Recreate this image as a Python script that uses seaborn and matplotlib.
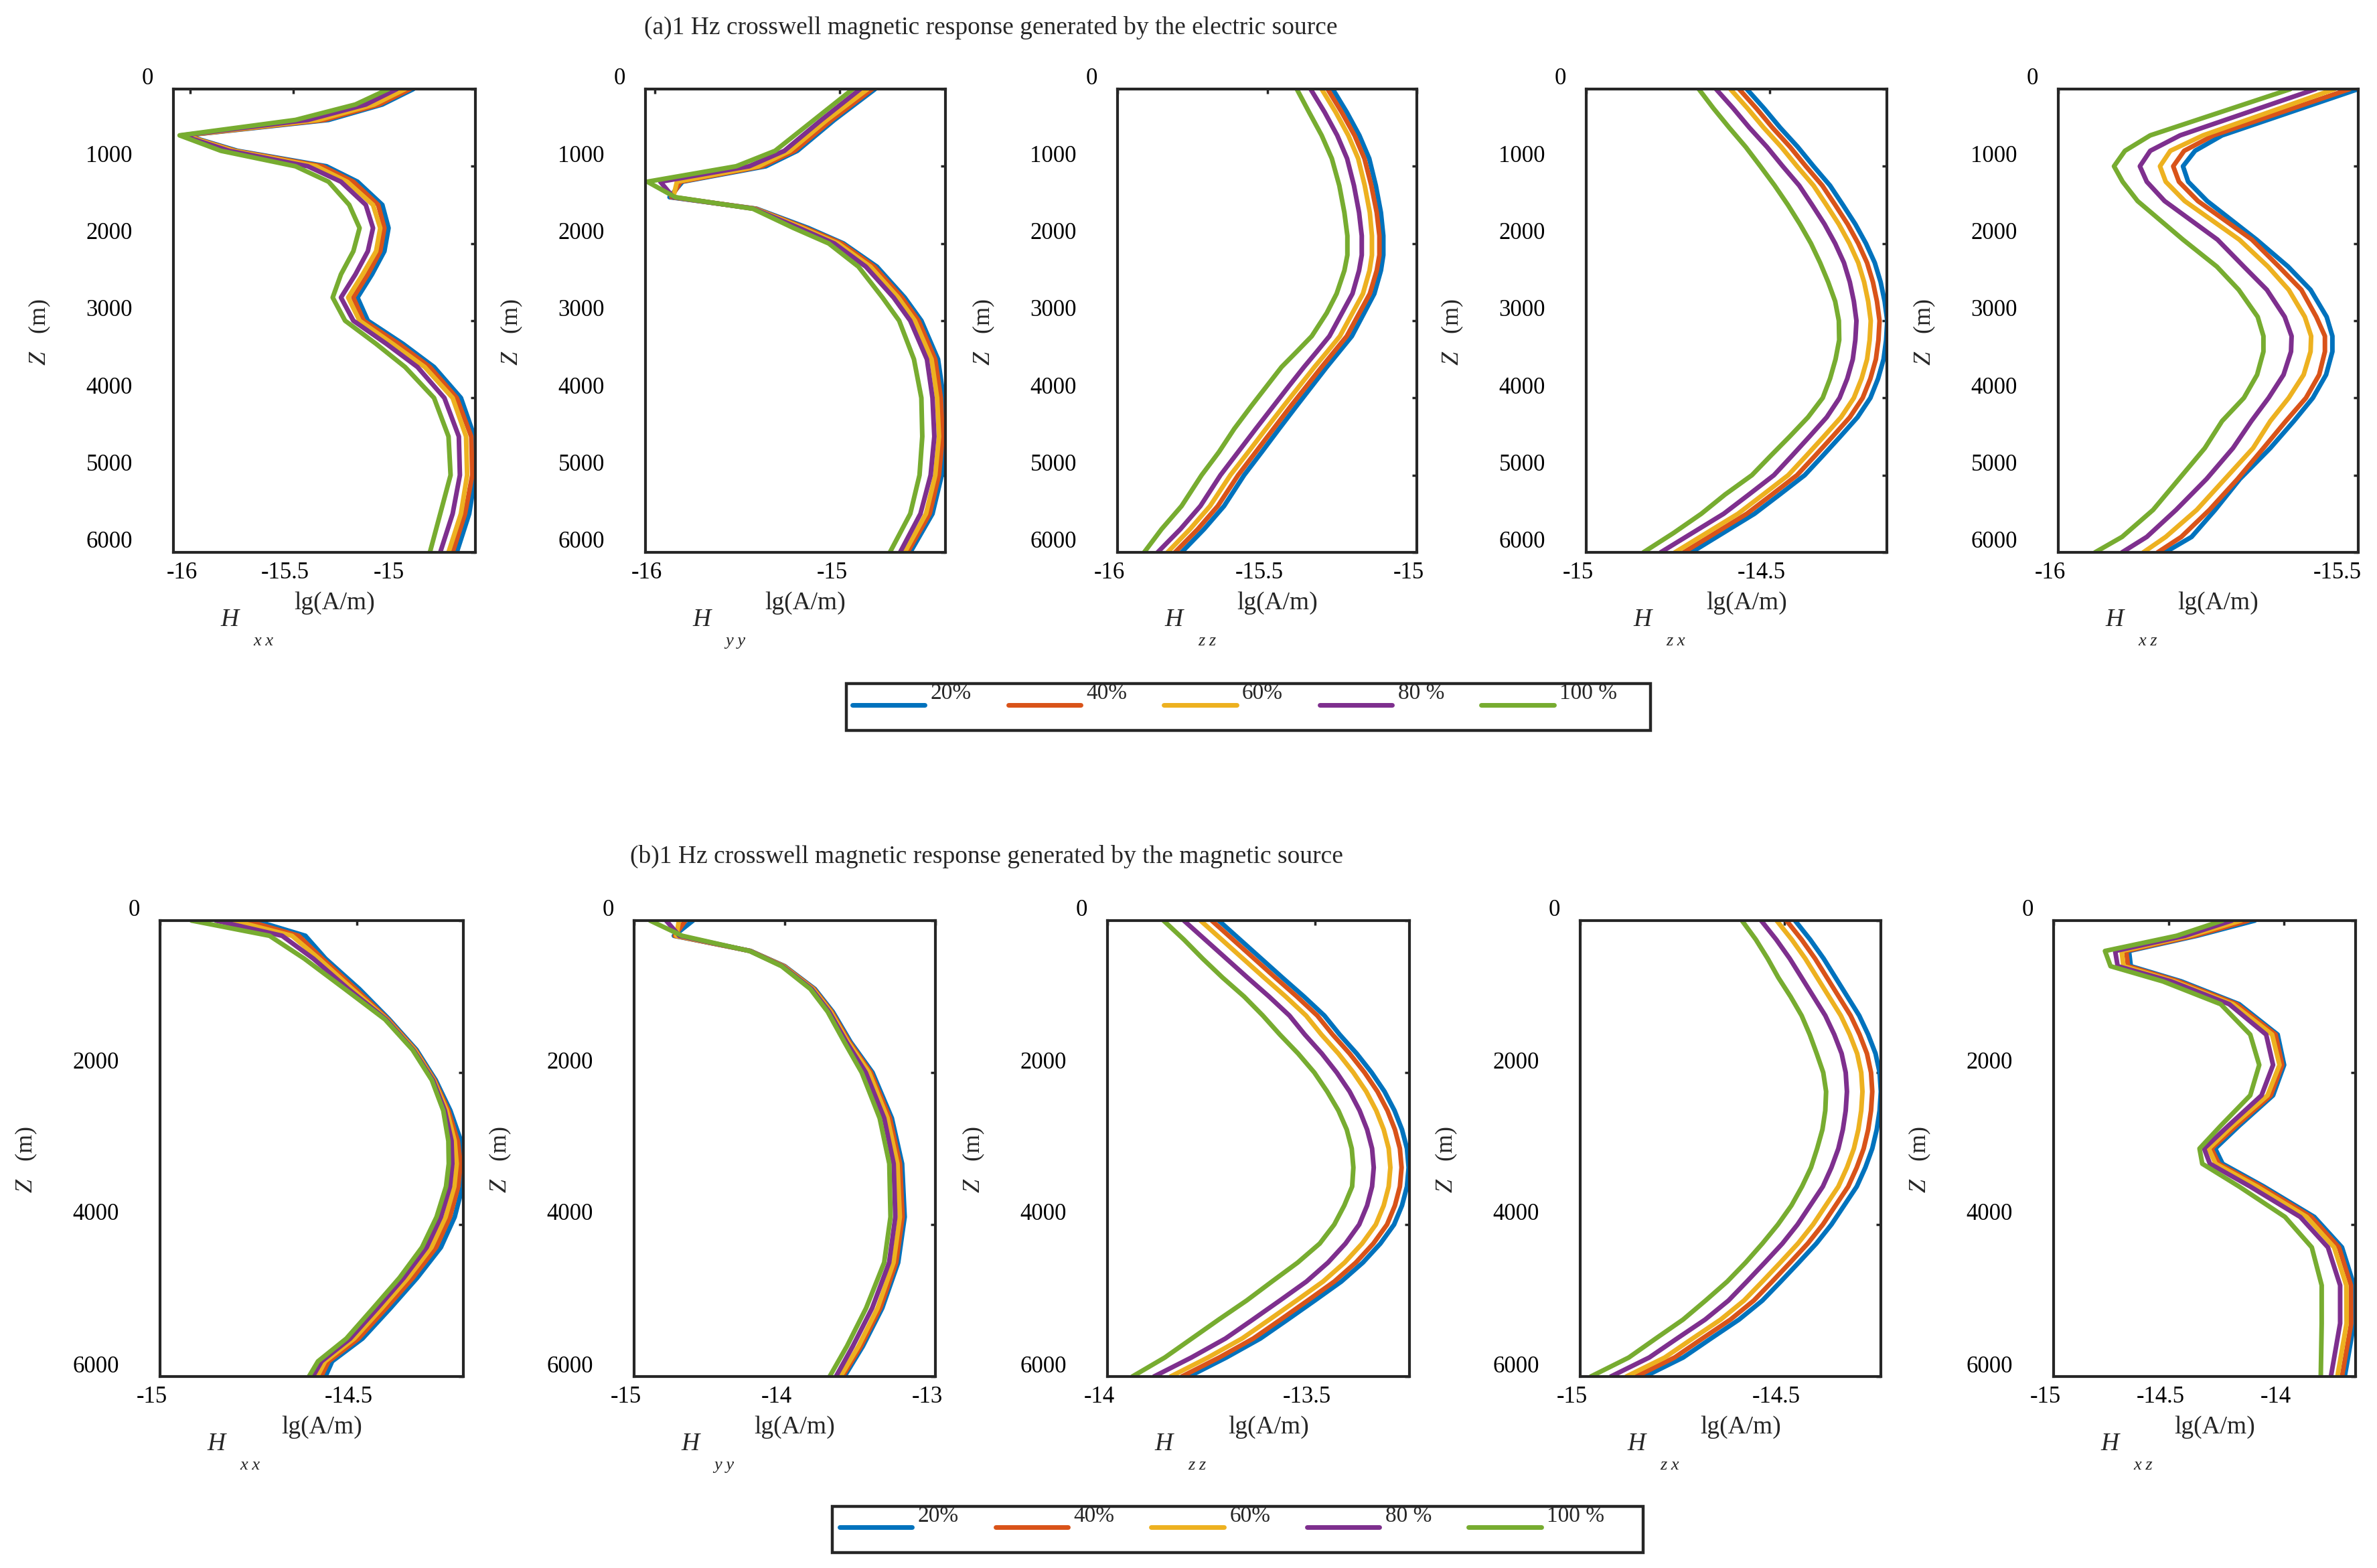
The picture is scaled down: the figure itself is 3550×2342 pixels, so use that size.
import matplotlib
matplotlib.use("Agg")
import matplotlib.pyplot as plt
import pandas as pd
import seaborn as sns
from matplotlib.lines import Line2D
from matplotlib.patches import Rectangle
from matplotlib.transforms import ScaledTranslation

levels = ["20%", "40%", "60%", "80 %", "100 %"]
colors = ["#0072BD", "#D95319", "#EDB120", "#7E2F8E", "#77AC30"]

z_250 = list(range(0, 6001, 250))

# ---- (a) electric source ----
z_a_xx = [0, 200, 400, 600, 800, 1000, 1200, 1500, 1800, 2100, 2400, 2700, 3000, 3300, 3600, 4000, 4500, 5000, 5500, 6000]
a_xx = [
    [-14.92, -15.07, -15.33, -16.02, -15.77, -15.34, -15.19, -15.07, -15.04, -15.06, -15.12, -15.19, -15.14, -14.97, -14.82, -14.69, -14.625, -14.62, -14.65, -14.71],
    [-14.935, -15.085, -15.35, -16.025, -15.78, -15.36, -15.21, -15.09, -15.06, -15.08, -15.14, -15.21, -15.16, -14.99, -14.84, -14.71, -14.64, -14.635, -14.67, -14.73],
    [-14.96, -15.11, -15.38, -16.03, -15.79, -15.39, -15.24, -15.115, -15.08, -15.10, -15.165, -15.235, -15.18, -15.02, -14.865, -14.73, -14.665, -14.66, -14.69, -14.75],
    [-15.00, -15.15, -15.43, -16.04, -15.81, -15.43, -15.27, -15.15, -15.115, -15.14, -15.20, -15.27, -15.21, -15.05, -14.90, -14.77, -14.70, -14.695, -14.73, -14.79],
    [-15.04, -15.20, -15.49, -16.05, -15.85, -15.49, -15.33, -15.23, -15.18, -15.21, -15.27, -15.31, -15.25, -15.10, -14.96, -14.82, -14.75, -14.74, -14.79, -14.84],
]
z_a_yy = [0, 400, 800, 1000, 1200, 1400, 1550, 1800, 2000, 2300, 2700, 3000, 3500, 4000, 4500, 5000, 5500, 6000]
a_yy = [
    [-14.81, -15.03, -15.23, -15.40, -15.85, -15.92, -15.45, -15.17, -14.98, -14.80, -14.65, -14.56, -14.47, -14.44, -14.43, -14.45, -14.50, -14.62],
    [-14.825, -15.045, -15.245, -15.42, -15.86, -15.91, -15.455, -15.185, -14.99, -14.815, -14.665, -14.575, -14.485, -14.455, -14.445, -14.465, -14.515, -14.635],
    [-14.85, -15.07, -15.27, -15.44, -15.88, -15.90, -15.46, -15.20, -15.01, -14.835, -14.685, -14.595, -14.505, -14.475, -14.465, -14.485, -14.535, -14.65],
    [-14.89, -15.10, -15.30, -15.49, -15.97, -15.90, -15.465, -15.22, -15.03, -14.86, -14.71, -14.62, -14.53, -14.50, -14.49, -14.51, -14.565, -14.675],
    [-14.93, -15.14, -15.35, -15.56, -16.04, -15.89, -15.47, -15.25, -15.06, -14.90, -14.77, -14.68, -14.60, -14.56, -14.555, -14.57, -14.62, -14.73],
]
z_a_zz = [0, 300, 600, 900, 1250, 1600, 1900, 2150, 2350, 2650, 2900, 3200, 3400, 3600, 3850, 4100, 4400, 4700, 5000, 5400, 5700, 6000]
a_zz = [
    [-15.281, -15.234, -15.192, -15.159, -15.137, -15.120, -15.112, -15.112, -15.120, -15.142, -15.176, -15.217, -15.259, -15.301, -15.351, -15.401, -15.460, -15.518, -15.577, -15.644, -15.711, -15.786],
    [-15.298, -15.251, -15.208, -15.175, -15.152, -15.134, -15.125, -15.125, -15.134, -15.157, -15.192, -15.234, -15.276, -15.318, -15.369, -15.42, -15.479, -15.538, -15.597, -15.665, -15.732, -15.808],
    [-15.318, -15.271, -15.229, -15.196, -15.174, -15.157, -15.150, -15.150, -15.158, -15.18, -15.215, -15.257, -15.299, -15.342, -15.393, -15.444, -15.504, -15.563, -15.623, -15.691, -15.758, -15.833],
    [-15.355, -15.308, -15.266, -15.233, -15.21, -15.193, -15.184, -15.184, -15.193, -15.215, -15.25, -15.292, -15.334, -15.377, -15.428, -15.478, -15.538, -15.597, -15.656, -15.723, -15.79, -15.866],
    [-15.401, -15.360, -15.318, -15.284, -15.259, -15.242, -15.232, -15.232, -15.242, -15.268, -15.301, -15.351, -15.401, -15.452, -15.502, -15.552, -15.610, -15.661, -15.719, -15.786, -15.853, -15.911],
]
z_a_zx = z_250
a_zx = [
    [-14.562, -14.515, -14.471, -14.423, -14.380, -14.335, -14.300, -14.266, -14.237, -14.213, -14.197, -14.186, -14.179, -14.182, -14.189, -14.204, -14.225, -14.260, -14.307, -14.355, -14.404, -14.472, -14.541, -14.627, -14.713],
    [-14.583, -14.536, -14.492, -14.444, -14.401, -14.356, -14.321, -14.287, -14.258, -14.234, -14.218, -14.207, -14.200, -14.203, -14.210, -14.225, -14.246, -14.281, -14.328, -14.376, -14.425, -14.493, -14.562, -14.648, -14.734],
    [-14.607, -14.56, -14.516, -14.468, -14.425, -14.38, -14.345, -14.311, -14.282, -14.258, -14.242, -14.231, -14.224, -14.227, -14.234, -14.249, -14.27, -14.305, -14.352, -14.4, -14.449, -14.517, -14.586, -14.672, -14.758],
    [-14.646, -14.599, -14.555, -14.507, -14.464, -14.419, -14.384, -14.35, -14.321, -14.297, -14.281, -14.27, -14.263, -14.266, -14.273, -14.288, -14.309, -14.344, -14.391, -14.439, -14.488, -14.556, -14.625, -14.711, -14.797],
    [-14.693, -14.653, -14.610, -14.565, -14.525, -14.486, -14.450, -14.417, -14.387, -14.362, -14.340, -14.321, -14.311, -14.310, -14.320, -14.335, -14.355, -14.395, -14.445, -14.497, -14.548, -14.621, -14.686, -14.762, -14.844],
]
z_a_xz = [0, 600, 800, 1000, 1200, 1450, 1950, 2300, 2600, 2950, 3200, 3400, 3700, 4000, 4300, 4650, 5050, 5450, 5800, 6000]
a_xz = [
    [-15.478, -15.715, -15.762, -15.783, -15.774, -15.741, -15.655, -15.600, -15.561, -15.533, -15.523, -15.523, -15.534, -15.557, -15.590, -15.631, -15.684, -15.727, -15.768, -15.814],
    [-15.493, -15.730, -15.781, -15.800, -15.790, -15.757, -15.663, -15.616, -15.577, -15.551, -15.536, -15.536, -15.546, -15.569, -15.604, -15.643, -15.688, -15.737, -15.786, -15.827],
    [-15.519, -15.748, -15.805, -15.823, -15.813, -15.780, -15.685, -15.635, -15.599, -15.571, -15.560, -15.561, -15.573, -15.599, -15.631, -15.661, -15.710, -15.759, -15.813, -15.852],
    [-15.552, -15.788, -15.840, -15.858, -15.846, -15.815, -15.723, -15.677, -15.637, -15.606, -15.594, -15.595, -15.608, -15.634, -15.664, -15.696, -15.742, -15.795, -15.846, -15.889],
    [-15.596, -15.840, -15.884, -15.903, -15.888, -15.862, -15.783, -15.724, -15.686, -15.653, -15.643, -15.643, -15.654, -15.677, -15.715, -15.745, -15.790, -15.835, -15.889, -15.936],
]

# ---- (b) magnetic source ----
z_b_xx = [0, 200, 500, 900, 1300, 1700, 2100, 2500, 2900, 3200, 3500, 3900, 4300, 4700, 5100, 5500, 5800, 6000]
b_xx = [
    [-14.759, -14.631, -14.580, -14.494, -14.418, -14.349, -14.300, -14.263, -14.236, -14.227, -14.232, -14.252, -14.287, -14.347, -14.415, -14.486, -14.563, -14.580],
    [-14.781, -14.648, -14.588, -14.503, -14.421, -14.352, -14.303, -14.268, -14.244, -14.237, -14.243, -14.264, -14.299, -14.358, -14.426, -14.496, -14.572, -14.591],
    [-14.815, -14.665, -14.597, -14.512, -14.424, -14.354, -14.305, -14.272, -14.252, -14.247, -14.253, -14.275, -14.311, -14.370, -14.437, -14.507, -14.581, -14.601],
    [-14.858, -14.690, -14.611, -14.522, -14.426, -14.357, -14.307, -14.277, -14.260, -14.258, -14.264, -14.287, -14.323, -14.381, -14.448, -14.517, -14.590, -14.612],
    [-14.920, -14.722, -14.634, -14.531, -14.429, -14.359, -14.310, -14.281, -14.268, -14.267, -14.274, -14.298, -14.335, -14.392, -14.459, -14.527, -14.599, -14.622],
]
z_b_yy = [0, 200, 400, 600, 900, 1200, 1600, 2000, 2600, 3200, 3900, 4500, 5100, 5600, 6000]
b_yy = [
    [-14.609, -14.736, -14.226, -14.0, -13.8, -13.681, -13.562, -13.417, -13.289, -13.221, -13.204, -13.247, -13.353, -13.481, -13.604],
    [-14.66, -14.73, -14.228, -14.004, -13.806, -13.688, -13.57, -13.428, -13.302, -13.235, -13.218, -13.26, -13.366, -13.494, -13.617],
    [-14.702, -14.72, -14.23, -14.009, -13.813, -13.695, -13.579, -13.44, -13.318, -13.252, -13.236, -13.278, -13.384, -13.51, -13.63],
    [-14.787, -14.70, -14.232, -14.015, -13.821, -13.705, -13.59, -13.462, -13.34, -13.277, -13.266, -13.307, -13.42, -13.548, -13.66],
    [-14.894, -14.681, -14.234, -14.021, -13.830, -13.715, -13.604, -13.489, -13.370, -13.306, -13.298, -13.340, -13.460, -13.587, -13.702],
]
z_b_zz = z_250
b_zz = [
    [-13.732, -13.681, -13.630, -13.579, -13.527, -13.478, -13.441, -13.400, -13.364, -13.333, -13.309, -13.291, -13.279, -13.275, -13.279, -13.291, -13.310, -13.343, -13.385, -13.437, -13.501, -13.566, -13.632, -13.714, -13.804],
    [-13.749, -13.698, -13.647, -13.596, -13.544, -13.495, -13.458, -13.417, -13.381, -13.35, -13.326, -13.308, -13.296, -13.292, -13.296, -13.308, -13.327, -13.36, -13.402, -13.454, -13.518, -13.583, -13.649, -13.731, -13.821],
    [-13.776, -13.725, -13.674, -13.623, -13.571, -13.522, -13.485, -13.444, -13.408, -13.377, -13.353, -13.335, -13.323, -13.319, -13.323, -13.335, -13.354, -13.387, -13.429, -13.481, -13.545, -13.61, -13.676, -13.758, -13.848],
    [-13.816, -13.765, -13.714, -13.663, -13.611, -13.562, -13.525, -13.484, -13.448, -13.417, -13.393, -13.375, -13.363, -13.359, -13.363, -13.375, -13.394, -13.427, -13.469, -13.521, -13.585, -13.65, -13.716, -13.798, -13.888],
    [-13.865, -13.816, -13.771, -13.723, -13.671, -13.626, -13.585, -13.541, -13.502, -13.471, -13.444, -13.424, -13.412, -13.408, -13.411, -13.430, -13.454, -13.489, -13.542, -13.604, -13.665, -13.732, -13.797, -13.862, -13.940],
]
z_b_zx = z_250
b_zx = [
    [-14.474, -14.437, -14.404, -14.375, -14.346, -14.317, -14.295, -14.277, -14.267, -14.264, -14.267, -14.274, -14.285, -14.302, -14.323, -14.354, -14.385, -14.422, -14.465, -14.509, -14.554, -14.611, -14.680, -14.748, -14.842],
    [-14.495, -14.458, -14.425, -14.396, -14.367, -14.338, -14.316, -14.298, -14.288, -14.285, -14.288, -14.295, -14.306, -14.323, -14.344, -14.375, -14.406, -14.443, -14.486, -14.53, -14.575, -14.632, -14.701, -14.769, -14.863],
    [-14.519, -14.482, -14.449, -14.42, -14.391, -14.362, -14.34, -14.322, -14.312, -14.309, -14.312, -14.319, -14.33, -14.347, -14.368, -14.399, -14.43, -14.467, -14.51, -14.554, -14.599, -14.656, -14.725, -14.793, -14.887],
    [-14.557, -14.52, -14.487, -14.458, -14.429, -14.4, -14.378, -14.36, -14.35, -14.347, -14.35, -14.357, -14.368, -14.385, -14.406, -14.437, -14.468, -14.505, -14.548, -14.592, -14.637, -14.694, -14.763, -14.831, -14.925],
    [-14.604, -14.570, -14.541, -14.515, -14.485, -14.458, -14.438, -14.421, -14.405, -14.398, -14.400, -14.407, -14.420, -14.435, -14.457, -14.483, -14.516, -14.554, -14.595, -14.640, -14.693, -14.748, -14.815, -14.881, -14.974],
]
z_b_xz = [0, 200, 400, 600, 800, 1100, 1500, 1900, 2300, 2700, 3000, 3200, 3500, 3900, 4300, 4800, 5300, 6000]
b_xz = [
    [-14.127, -14.378, -14.673, -14.665, -14.446, -14.195, -14.028, -14.0, -14.048, -14.195, -14.299, -14.267, -14.088, -13.869, -13.749, -13.697, -13.697, -13.737],
    [-14.155, -14.39, -14.685, -14.677, -14.458, -14.206, -14.037, -14.008, -14.058, -14.208, -14.315, -14.283, -14.1, -13.882, -13.762, -13.71, -13.709, -13.749],
    [-14.187, -14.41, -14.705, -14.697, -14.476, -14.222, -14.052, -14.02, -14.072, -14.224, -14.327, -14.297, -14.118, -13.902, -13.783, -13.73, -13.729, -13.769],
    [-14.227, -14.43, -14.733, -14.722, -14.49, -14.238, -14.078, -14.048, -14.098, -14.242, -14.347, -14.322, -14.147, -13.93, -13.81, -13.757, -13.757, -13.797],
    [-14.267, -14.466, -14.777, -14.753, -14.526, -14.275, -14.147, -14.108, -14.147, -14.275, -14.367, -14.355, -14.195, -13.996, -13.880, -13.837, -13.837, -13.841],
]

title_a = "(a)1 Hz crosswell magnetic response generated by the electric source"
title_b = "(b)1 Hz crosswell magnetic response generated by the magnetic source"

# (depths, series, xlim, xticks, subscript)
row_a = [
    (z_a_xx, a_xx, (-16.08, -14.62), [-16, -15.5, -15], "x x"),
    (z_a_yy, a_yy, (-16.05, -14.43), [-16, -15], "y y"),
    (z_a_zz, a_zz, (-16.0, -15.0), [-16, -15.5, -15], "z z"),
    (z_a_zx, a_zx, (-15.0, -14.18), [-15, -14.5], "z x"),
    (z_a_xz, a_xz, (-16.0, -15.478), [-16, -15.5], "x z"),
]
row_b = [
    (z_b_xx, b_xx, (-15.0, -14.23), [-15, -14.5], "x x"),
    (z_b_yy, b_yy, (-15.0, -13.0), [-15, -14, -13], "y y"),
    (z_b_zz, b_zz, (-14.0, -13.273), [-14, -13.5], "z z"),
    (z_b_zx, b_zx, (-15.0, -14.264), [-15, -14.5], "z x"),
    (z_b_xz, b_xz, (-15.0, -13.69), [-15, -14.5, -14], "x z"),
]

W, H = 3550, 2342
sns.set_style("white")
plt.rcParams["font.family"] = ["Liberation Serif", "DejaVu Serif"]
plt.rcParams["mathtext.fontset"] = "custom"
plt.rcParams["mathtext.rm"] = "Liberation Serif"
plt.rcParams["mathtext.it"] = "Liberation Serif:italic"
plt.rcParams["axes.unicode_minus"] = False

fig = plt.figure(figsize=(W / 100, H / 100), dpi=100)
ink = "#262626"
line_w = 5


def fmt(v):
    return f"{v:g}"


def draw_row(panels, lefts, widths, top, bottom, yticks):
    for (z, series, xlim, xticks, sub), lx, wx in zip(panels, lefts, widths):
        ax = fig.add_axes([lx / W, (H - bottom) / H, wx / W, (bottom - top) / H])
        df = pd.DataFrame({
            "Z": [d for _ in series for d in z],
            "H": [v for s in series for v in s],
            "level": [lv for lv, s in zip(levels, series) for _ in s],
        })
        sns.lineplot(data=df, x="H", y="Z", hue="level", hue_order=levels,
                     palette=colors, orient="y", estimator=None, sort=False,
                     lw=line_w, legend=False, ax=ax)
        ax.set_xlim(*xlim)
        ax.set_ylim(6000, 0)
        ax.set_xticks(xticks)
        ax.set_xticklabels([fmt(t) for t in xticks])
        ax.set_yticks(yticks)
        ax.set_yticklabels([str(t) for t in yticks])
        for sp in ax.spines.values():
            sp.set_linewidth(3)
            sp.set_color(ink)
        ax.tick_params(direction="in", length=5, width=2.5, color=ink,
                       labelsize=25, labelcolor="black",
                       top=True, right=True)
        ax.tick_params(axis="y", pad=44)
        ax.tick_params(axis="x", pad=10)
        ax.set_xlabel("lg(A/m)", fontsize=27)
        ax.set_ylabel(r"$Z$   (m)", fontsize=26)
        h_ax = bottom - top
        ax.xaxis.set_label_coords((wx / 2 + 15) / wx, -76 / h_ax)
        ax.xaxis.label.set_va("center")
        ax.yaxis.set_label_coords(-200 / wx, 0.5 - 17 / h_ax)
        ax.yaxis.label.set_va("center")
        ax.text(84 / wx, -101 / h_ax, "H", transform=ax.transAxes, fontsize=27,
                style="italic", ha="center", va="center")
        ax.text(134 / wx, -133 / h_ax, sub, transform=ax.transAxes, fontsize=19,
                style="italic", ha="center", va="center")
        up = ScaledTranslation(0, 0.19, fig.dpi_scale_trans)
        labs = ax.get_yticklabels()
        for lab in labs:
            lab.set_transform(lab.get_transform() + up)
        labs[0].set_transform(labs[0].get_transform()
                              + ScaledTranslation(0.31, 0, fig.dpi_scale_trans))
        for lab in ax.get_xticklabels():
            lab.set_transform(lab.get_transform()
                              + ScaledTranslation(-0.12, 0, fig.dpi_scale_trans))


draw_row(row_a, [259, 964, 1669, 2369, 3074], [451, 448, 447, 449, 448],
         133, 825, list(range(0, 6001, 1000)))
draw_row(row_b, [239, 947, 1654, 2360, 3067], [453, 450, 451, 449, 451],
         1375, 2056, list(range(0, 6001, 2000)))

fig.text(1480 / W, 1 - 41 / H, title_a, fontsize=27, ha="center", va="center")
fig.text(1473 / W, 1 - 1279 / H, title_b, fontsize=27, ha="center", va="center")

handles = [Line2D([], [], color=c, lw=line_w) for c in colors]


def add_legend(box_l, box_r, box_t, box_b, first_x):
    yc = (box_t + box_b) / 2
    leg = fig.legend(handles, levels, loc="center left",
                     bbox_to_anchor=(first_x / W, 1 - yc / H),
                     bbox_transform=fig.transFigure, ncol=5, frameon=False,
                     fontsize=24, handlelength=3.25, handletextpad=0.25,
                     columnspacing=1.65, borderpad=0, borderaxespad=0)
    for t in leg.get_texts():
        t.set_transform(t.get_transform()
                        + ScaledTranslation(0, 0.2, fig.dpi_scale_trans))
    fig.add_artist(Rectangle((box_l / W, 1 - box_b / H), (box_r - box_l) / W,
                             (box_b - box_t) / H, transform=fig.transFigure,
                             fill=False, lw=3.2, ec=ink))


add_legend(1264, 2465, 1021, 1091, 1273)
add_legend(1243, 2454, 2250, 2319, 1254)

fig.savefig("out.png", dpi=100, facecolor="white")
